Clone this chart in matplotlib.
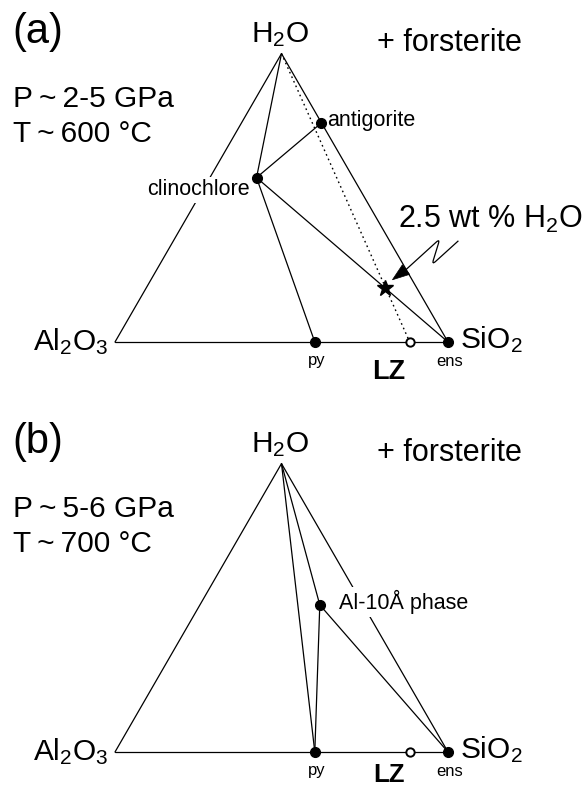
import numpy as np
import matplotlib
matplotlib.use("Agg")
import matplotlib.pyplot as plt
import matplotlib.transforms as mtransforms
from matplotlib.path import Path
from matplotlib.patches import PathPatch, Polygon

plt.rcParams["font.family"] = ["Liberation Sans", "DejaVu Sans"]
plt.rcParams["mathtext.fontset"] = "custom"
plt.rcParams["mathtext.rm"] = "Liberation Sans"
plt.rcParams["mathtext.it"] = "Liberation Sans:italic"
plt.rcParams["mathtext.bf"] = "Liberation Sans:bold"

# ---------------------------------------------------------------------------
# Phase compositions as (Al2O3, SiO2, H2O) fractions, projected from forsterite
# ---------------------------------------------------------------------------
corner_labels = ["Al$_2$O$_3$", "SiO$_2$", "H$_2$O"]

# (a) P ~ 2-5 GPa, T ~ 600 °C
a_phases = ["antigorite", "clinochlore", "py", "ens"]
a_al2o3 = [0.00, 0.29, 0.40, 0.00]
a_sio2 = [0.24, 0.14, 0.60, 1.00]
a_h2o = [0.76, 0.57, 0.00, 0.00]
a_ties = [("H2O", "clinochlore"), ("clinochlore", "py"),
          ("clinochlore", "antigorite"), ("clinochlore", "ens")]

# (b) P ~ 5-6 GPa, T ~ 700 °C
b_phases = ["Al-10Å phase", "py", "ens"]
b_al2o3 = [0.13, 0.40, 0.00]
b_sio2 = [0.36, 0.60, 1.00]
b_h2o = [0.51, 0.00, 0.00]
b_ties = [("H2O", "py"), ("H2O", "Al-10Å phase"),
          ("Al-10Å phase", "py"), ("Al-10Å phase", "ens")]

# bulk composition (LZ) and the hydrated bulk (2.5 wt % H2O)
lz_comp = (0.115, 0.885, 0.0)
star_comp = (0.094, 0.718, 0.188)

panel_tags = ["(a)", "(b)"]
panel_P = ["P\u2009~\u20092-5 GPa", "P\u2009~\u20095-6 GPa"]
panel_T = ["T\u2009~\u2009600 °C", "T\u2009~\u2009700 °C"]


def tern(al, si, h):
    """Ternary (Al2O3, SiO2, H2O) -> cartesian, Al2O3 at origin, SiO2 at (1, 0)."""
    al, si, h = (np.asarray(v, dtype=float) for v in (al, si, h))
    s = al + si + h
    return (si + 0.5 * h) / s, (np.sqrt(3) / 2) * h / s


W, H = 585, 787
SCALE = 333.0  # pixels per unit triangle side
LW = 0.9
BIG = 21.5     # corner / condition labels
MIN = 15.5     # phase labels
SMALL = 12     # py, ens

fig = plt.figure(figsize=(W / 100, H / 100), dpi=100)
fig.patch.set_facecolor("white")

layouts = [dict(top=0, bottom=400, x0=115, base=342, lz_dy=-37, lz_size=19.5),
           dict(top=400, bottom=787, x0=115, base=752, lz_dy=-29.5, lz_size=18.5)]


def make_axes(p):
    ax = fig.add_axes([0, 1 - p["bottom"] / H, 1, (p["bottom"] - p["top"]) / H])
    ax.set_xlim(-p["x0"] / SCALE, (W - p["x0"]) / SCALE)
    ax.set_ylim((p["base"] - p["bottom"]) / SCALE, (p["base"] - p["top"]) / SCALE)
    ax.axis("off")
    return ax


def put(ax, s, xy, dx, dy, size, ha="left", weight="normal", box=False, z=5):
    kw = {}
    if box:
        kw["bbox"] = dict(boxstyle="square,pad=0.12", fc="white", ec="none")
    ax.annotate(s, xy=xy, xytext=(dx, dy), textcoords="offset pixels",
                ha=ha, va="baseline", fontsize=size, fontweight=weight,
                zorder=z, **kw)


def draw_panel(k, ax, names, al, si, h, ties):
    pts = {n: tern(a, b, c) for n, a, b, c in zip(names, al, si, h)}
    pts["Al2O3"] = tern(1, 0, 0)
    pts["SiO2"] = tern(0, 1, 0)
    pts["H2O"] = tern(0, 0, 1)

    # triangle outline and tie lines
    for p, q in [("Al2O3", "SiO2"), ("Al2O3", "H2O"), ("H2O", "SiO2")] + ties:
        ax.plot([pts[p][0], pts[q][0]], [pts[p][1], pts[q][1]],
                color="black", lw=LW, zorder=2, solid_capstyle="round")

    # phases
    xs = [pts[n][0] for n in names]
    ys = [pts[n][1] for n in names]
    ax.plot(xs, ys, "o", color="black", ms=7, zorder=6)

    lzx, lzy = tern(*lz_comp)
    ax.plot(lzx, lzy, "o", mfc="white", mec="black", mew=1.4, ms=6, zorder=6)

    apex = pts["H2O"]
    # corner labels
    put(ax, corner_labels[2], apex, -1, 11, BIG, ha="center")
    put(ax, corner_labels[0], pts["Al2O3"], -7, -8, BIG, ha="right")
    put(ax, corner_labels[1], pts["SiO2"], 12, -6, BIG, ha="left")
    # panel text
    put(ax, panel_tags[k], apex, -269, 11, 30)
    put(ax, "+ forsterite", apex, 95, 2.5, 22)
    put(ax, panel_P[k], apex, -269, -53, BIG)
    put(ax, panel_T[k], apex, -269, -88, BIG)
    # base labels
    put(ax, "py", pts["py"], 1.5, -23, SMALL, ha="center")
    put(ax, "ens", pts["ens"], 2, -24, SMALL, ha="center")
    put(ax, "LZ", (lzx, lzy), -21, layouts[k]["lz_dy"], layouts[k]["lz_size"],
        ha="center", weight="bold")
    return pts


# ---------------- panel (a) ----------------
axa = make_axes(layouts[0])
pa = draw_panel(0, axa, a_phases, a_al2o3, a_sio2, a_h2o, a_ties)
put(axa, "antigorite", pa["antigorite"], 6, -3.5, MIN)
put(axa, "clinochlore", pa["clinochlore"], -7, -17.5, MIN, ha="right", box=True, z=3)

# dotted join H2O -> LZ
lzx, lzy = tern(*lz_comp)
axa.plot([pa["H2O"][0], lzx], [pa["H2O"][1], lzy], color="black", lw=1.0,
         linestyle=(0, (1.2, 2.4)), zorder=2)

sx, sy = tern(*star_comp)
axa.plot(sx, sy, "*", color="black", ms=12, zorder=7)
put(axa, "2.5 wt % H$_2$O", (sx, sy), 13, 60, 22)

# squiggly pointer (offsets in pixels from the star, y up)
tr = mtransforms.ScaledTranslation(sx, sy, axa.transData)
A = np.array([73.0, 47.0])
B = np.array([46.5, 23.0])
C = np.array([54.5, 49.0])
tip = np.array([7.0, 8.0])
head_len, head_w = 17.0, 12.0
d = tip - np.array([25.0, 21.5])
d /= np.hypot(*d)
base_mid = tip - head_len * d
nrm = np.array([-d[1], d[0]])


def toward(p, q, r):
    v = q - p
    return p + v * (r / np.hypot(*v))


B1, B2 = toward(B, A, 5), toward(B, C, 5)
C1, C2 = toward(C, B, 5), toward(C, base_mid, 5)
verts = [A, B1, B, B2, C1, C, C2, base_mid]
codes = [Path.MOVETO, Path.LINETO, Path.CURVE3, Path.CURVE3,
         Path.LINETO, Path.CURVE3, Path.CURVE3, Path.LINETO]
axa.add_patch(PathPatch(Path(verts, codes), fc="none", ec="black", lw=LW,
                        transform=tr, zorder=7))
axa.add_patch(Polygon([tip, base_mid + nrm * head_w / 2, base_mid - nrm * head_w / 2],
                      closed=True, fc="black", ec="black", lw=0.5,
                      transform=tr, zorder=7))

# ---------------- panel (b) ----------------
axb = make_axes(layouts[1])
pb = draw_panel(1, axb, b_phases, b_al2o3, b_sio2, b_h2o, b_ties)
put(axb, "Al-10Å phase", pb["Al-10Å phase"], 19, -4, MIN, box=True, z=3)

fig.savefig("out.png", dpi=100, facecolor="white")
